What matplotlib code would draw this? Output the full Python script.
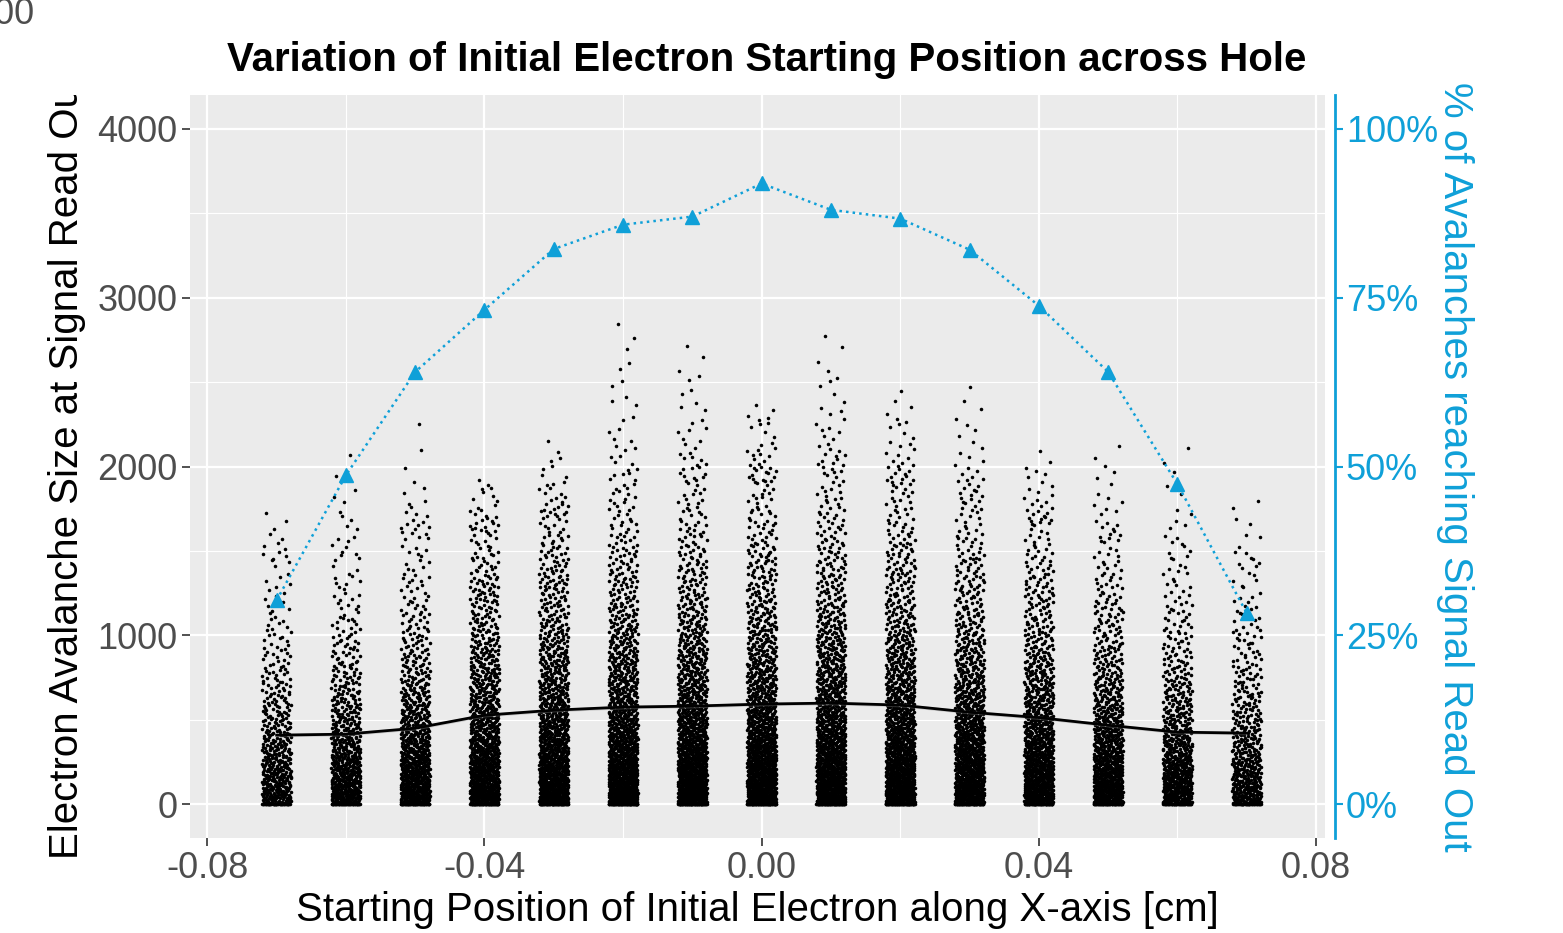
import numpy as np
import matplotlib
matplotlib.use("Agg")
import matplotlib.pyplot as plt
from matplotlib.transforms import Bbox

# starting positions across the hole [cm]
positions = [-0.07, -0.06, -0.05, -0.04, -0.03, -0.02, -0.01, 0.00,
             0.01, 0.02, 0.03, 0.04, 0.05, 0.06, 0.07]

# % of avalanches reaching the read out (right axis)
pct_read_out = [30.2, 48.7, 64.0, 73.2, 82.2, 85.8, 87.0, 91.9,
                88.0, 86.7, 82.1, 73.8, 64.0, 47.4, 28.3]

# mean avalanche size (black line)
mean_size = [409, 415, 450, 527, 557, 575, 581, 593,
             599, 587, 545, 513, 468, 427, 421]

# rough number of non-zero points and zero points per column
n_points = [480, 650, 800, 1000, 1100, 1180, 1220, 1250,
            1230, 1200, 1100, 1000, 850, 650, 480]
n_zero = [40, 45, 50, 55, 55, 60, 60, 60, 60, 60, 55, 55, 50, 45, 40]

# size quantiles per column
q_levels = [0.0, 0.25, 0.5, 0.75, 0.9, 0.97, 0.995, 1.0]
size_quantiles = [
    [0, 120, 285, 570, 940, 1430, 1700, 1870],
    [0, 120, 290, 580, 955, 1450, 1900, 2230],
    [0, 130, 310, 625, 1035, 1575, 1900, 2680],
    [0, 160, 380, 760, 1200, 1600, 1850, 1950],
    [0, 165, 395, 800, 1270, 1700, 2000, 2220],
    [0, 170, 400, 810, 1300, 1850, 2500, 3020],
    [0, 170, 405, 820, 1320, 1900, 2450, 2850],
    [0, 175, 410, 830, 1340, 1900, 2250, 2430],
    [0, 175, 415, 840, 1350, 1950, 2500, 2920],
    [0, 170, 405, 820, 1330, 1880, 2250, 2460],
    [0, 160, 380, 760, 1250, 1780, 2200, 2480],
    [0, 150, 355, 720, 1180, 1650, 1950, 2090],
    [0, 135, 325, 655, 1080, 1550, 1950, 2245],
    [0, 125, 295, 600, 980, 1450, 1900, 2220],
    [0, 120, 290, 590, 970, 1400, 1700, 1820],
]

blue = "#0fa0d8"
jit = 0.0021


def halton(idx, base):
    # van der Corput sequence, used to spread the points of each column
    out = np.zeros(len(idx))
    f = 1.0
    i = idx.copy()
    while np.any(i > 0):
        f = f / base
        out += f * (i % base)
        i = i // base
    return out


fig = plt.figure(figsize=(15.63, 9.33), dpi=100)
ax = fig.add_axes([190/1563, 1-838/933, (1325-190)/1563, (838-95)/933])
ax.set_facecolor("#ebebeb")

xs_all = []
ys_all = []
for i, x0 in enumerate(positions):
    n = n_points[i]
    k = np.arange(1, n + 1) + 97 * i
    p = halton(k, 2)
    p = np.clip(p, 0, 1 - 0.5 / n)
    # interpolate in exponential scale so the density has no steps
    t_lev = -np.log(1 - np.array(q_levels[:-1]))
    t_lev = np.append(t_lev, -np.log(0.5 / n))
    ys = np.interp(-np.log(1 - p), t_lev, size_quantiles[i])
    xs = x0 + jit * (2 * halton(k, 3) - 1)
    xs_all.append(xs)
    ys_all.append(ys)
    kz = np.arange(1, n_zero[i] + 1) + 13 * i
    xs_all.append(x0 + jit * (2 * halton(kz, 5) - 1))
    ys_all.append(np.zeros(n_zero[i]))
ax.scatter(np.concatenate(xs_all), np.concatenate(ys_all), s=6.5, c="black",
           linewidths=0, zorder=3)

xm = np.array(positions)
ym = np.array(mean_size)
ax.fill_between(xm, ym - 10, ym + 10, color="#999999", alpha=0.4, lw=0, zorder=4)
ax.plot(xm, ym, color="black", lw=2, zorder=5)

ax.set_xlim(-0.0825, 0.0813)
ax.set_ylim(-200, 4200)
ax.set_xticks([-0.08, -0.04, 0.0, 0.04, 0.08])
ax.set_xticklabels(["-0.08", "-0.04", "0.00", "0.04", "0.08"])
ax.set_xticks([-0.06, -0.02, 0.02, 0.06], minor=True)
ax.set_yticks([0, 1000, 2000, 3000, 4000])
ax.set_yticks([500, 1500, 2500, 3500], minor=True)
ax.grid(which="major", color="white", lw=1.6)
ax.grid(which="minor", color="white", lw=0.8)
ax.set_axisbelow(True)
for s in ax.spines.values():
    s.set_visible(False)
ax.tick_params(which="major", length=6, width=1.2, color="#333333",
               labelsize=26, labelcolor="#4d4d4d", pad=3)
ax.tick_params(which="minor", length=0)
for lab in ax.get_xticklabels() + ax.get_yticklabels():
    lab.set_family("Liberation Sans")

ax.set_xlabel("Starting Position of Initial Electron along X-axis [cm]",
              fontsize=29, family="Liberation Sans", labelpad=4)
ylab = ax.set_ylabel("Electron Avalanche Size at Signal Read Out",
                     fontsize=29, family="Liberation Sans", labelpad=8)
ylab.set_clip_box(Bbox([[0, 0], [1563, 933 - 95]]))
ylab.set_clip_on(True)

ax2 = ax.twinx()
ax2.set_ylim(-5, 105)
ax2.plot(positions, pct_read_out, color=blue, ls=":", lw=1.8, marker="^",
         ms=10, zorder=6)
ax2.set_yticks([0, 25, 50, 75, 100])
ax2.set_yticklabels(["0%", "25%", "50%", "75%", "100%"])
for s in ["top", "left", "bottom"]:
    ax2.spines[s].set_visible(False)
ax2.spines["right"].set_color(blue)
ax2.spines["right"].set_linewidth(2)
ax2.spines["right"].set_position(("outward", 7))
ax2.tick_params(axis="y", length=6, width=1.5, color=blue, labelsize=26,
                labelcolor=blue, pad=2)
for lab in ax2.get_yticklabels():
    lab.set_family("Liberation Sans")
ax2.set_ylabel("% of Avalanches reaching Signal Read Out", rotation=-90,
               fontsize=29, color=blue, family="Liberation Sans", labelpad=26)

fig.text(767/1563, 1 - 60/933, "Variation of Initial Electron Starting Position across Hole",
         ha="center", va="center", fontsize=29, weight="bold", family="Liberation Sans")
fig.text(34/1563, 1 - 14/933, "4000", ha="right", va="center", fontsize=26,
         color="#4d4d4d", family="Liberation Sans")

fig.savefig("out.png", dpi=100)
